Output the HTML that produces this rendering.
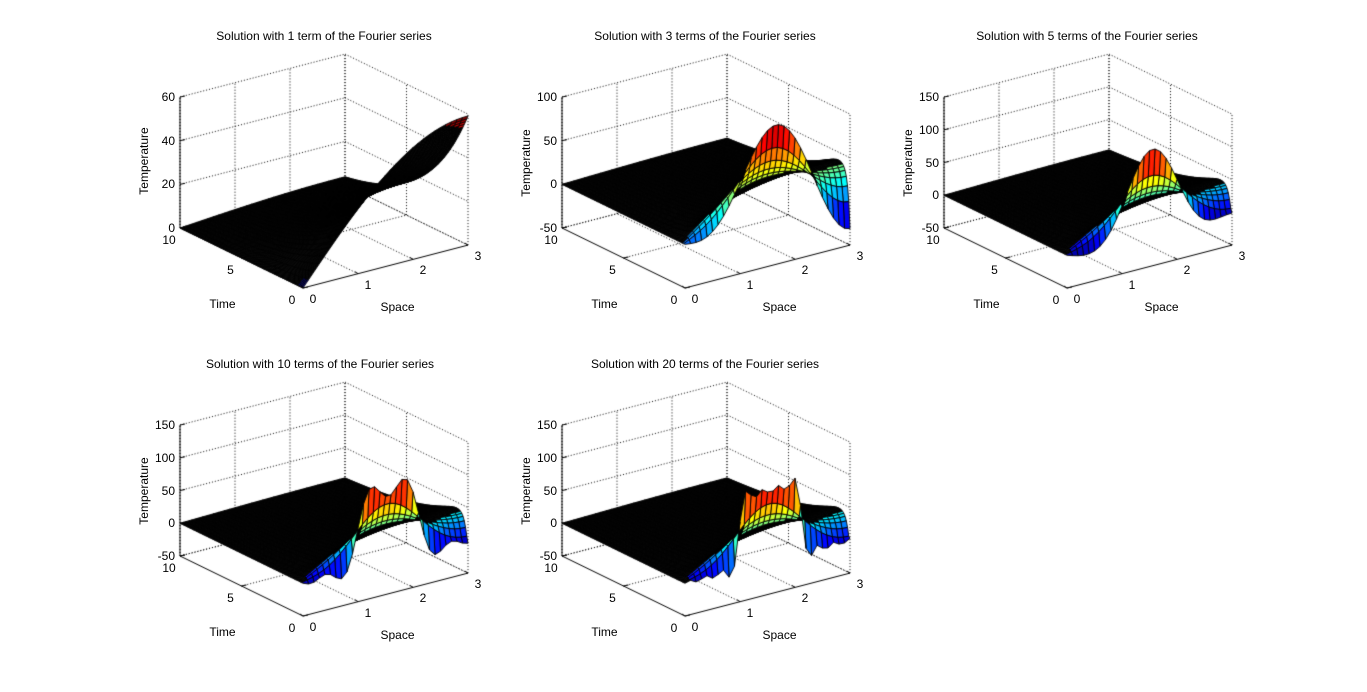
<!DOCTYPE html>
<html><head><meta charset="utf-8">
<style>
html,body{margin:0;padding:0;background:#fff;}
#wrap{position:relative;width:1367px;height:692px;overflow:hidden;background:#fff;font-family:"Liberation Sans",Arial,sans-serif;color:#000;}
canvas{position:absolute;left:0;top:0;}
.t{position:absolute;white-space:nowrap;font-size:12px;line-height:12px;}
.c{transform:translate(-50%,-50%);}
.r{transform:translate(-100%,-50%);}
.v{transform:translate(-50%,-50%) rotate(-90deg);}
</style></head>
<body>
<div id="wrap">
<canvas id="cv" width="1367" height="692"></canvas>
</div>
<script>
// ---- data ----
const termCounts = [1, 3, 5, 10, 20];
const spaceTicks = [0, 1, 2, 3];
const timeTicks = [0, 5, 10];
const zTicksA = [0, 20, 40, 60];
const zTicksB = [-50, 0, 50, 100];
const zTicksC = [-50, 0, 50, 100, 150];
// initial temperature profile sampled every 0.05 on [0,3]
const initialTemp = [0,0,0,0,0,0,0,0,0,0,0,0,0,0,0,0,0,0,0,0,
  108,108,108,108,108,108,108,108,108,108,108,108,108,108,108,108,108,108,108,108,108,108,108,
  0,0,0,0,0,0,0,0,0,0,0,0,0,0,0,0,0,0];
const sampleStep = 0.05;

// ---- layout (not data) ----
const plots = [
  {ox:303, oy:288, zlo:0,   zhi:60,  zt:zTicksA, tx:324, ty:36},
  {ox:685, oy:288, zlo:-50, zhi:100, zt:zTicksB, tx:705, ty:36},
  {ox:1067,oy:288, zlo:-50, zhi:150, zt:zTicksC, tx:1087,ty:36},
  {ox:303, oy:616, zlo:-50, zhi:150, zt:zTicksC, tx:320, ty:364},
  {ox:685, oy:616, zlo:-50, zhi:150, zt:zTicksC, tx:705, ty:364}
];
const L = 3;
const wrap = document.getElementById('wrap');
const ctx = document.getElementById('cv').getContext('2d');

function P(p, x, t, z){
  return [p.ox + x*55 - t*12.3, p.oy - x*14.3 - t*6 - (z - p.zlo)*131/(p.zhi - p.zlo)];
}
function coeffs(N){
  const b = [];
  for(let n=1;n<=N;n++){
    const k=(2*n-1)*Math.PI/(2*L);
    let s=0;
    for(let i=0;i<initialTemp.length;i++){
      const a=Math.max(0,i*sampleStep-sampleStep/2), c=Math.min(L,i*sampleStep+sampleStep/2);
      s+=initialTemp[i]*(Math.cos(k*a)-Math.cos(k*c))/k;
    }
    b.push({k:k, b:2/L*s});
  }
  return b;
}
function jet(v){
  v=Math.max(0,Math.min(1,v));
  const cl=q=>Math.round(255*Math.max(0,Math.min(1,q)));
  return 'rgb('+cl(1.5-Math.abs(4*v-3))+','+cl(1.5-Math.abs(4*v-2))+','+cl(1.5-Math.abs(4*v-1))+')';
}
function line(a,b){ctx.beginPath();ctx.moveTo(a[0],a[1]);ctx.lineTo(b[0],b[1]);ctx.stroke();}
function addText(txt, x, y, cls, name){
  const d=document.createElement('div');
  d.className='t '+cls;
  d.style.left=x+'px'; d.style.top=y+'px';
  d.textContent=txt;
  
  
  wrap.appendChild(d);
}

plots.forEach((p,pi)=>{
  const N=termCounts[pi];
  // grid (dotted)
  ctx.save();
  ctx.strokeStyle='#000'; ctx.lineWidth=1; ctx.setLineDash([1,2]);
  p.zt.forEach(z=>{ line(P(p,0,10,z),P(p,3,10,z)); line(P(p,3,10,z),P(p,3,0,z)); });
  spaceTicks.forEach(x=>{ line(P(p,x,10,p.zlo),P(p,x,10,p.zhi)); if(x>0) line(P(p,x,0,p.zlo),P(p,x,10,p.zlo)); });
  timeTicks.forEach(t=>{ line(P(p,3,t,p.zlo),P(p,3,t,p.zhi)); if(t>0) line(P(p,0,t,p.zlo),P(p,3,t,p.zlo)); });
  ctx.restore();

  // surface
  const B=coeffs(N);
  const xs=[],ts=[];
  for(let i=0;i<=30;i++) xs.push(i*0.1);
  for(let j=0;j<=100;j++) ts.push(j*0.1);
  const Z=ts.map(t=>xs.map(x=>{let s=0;B.forEach(m=>{s+=m.b*Math.sin(m.k*x)*Math.exp(-m.k*m.k*t);});return s;}));
  let zmin=Infinity,zmax=-Infinity;
  Z.forEach(r=>r.forEach(v=>{zmin=Math.min(zmin,v);zmax=Math.max(zmax,v);}));
  const quads=[];
  for(let j=0;j<ts.length-1;j++)for(let i=0;i<xs.length-1;i++){
    const zc=(Z[j][i]+Z[j][i+1]+Z[j+1][i]+Z[j+1][i+1])/4;
    quads.push({i,j,d:(xs[i]+0.05)*14.3+(ts[j]+0.05)*6,zc});
  }
  quads.sort((a,b)=>b.d-a.d);
  ctx.lineWidth=0.9; ctx.strokeStyle='#000';
  quads.forEach(q=>{
    const {i,j}=q;
    const a=P(p,xs[i],ts[j],Z[j][i]),b=P(p,xs[i+1],ts[j],Z[j][i+1]),
          c=P(p,xs[i+1],ts[j+1],Z[j+1][i+1]),d=P(p,xs[i],ts[j+1],Z[j+1][i]);
    const area=Math.abs((c[0]-a[0])*(d[1]-b[1])-(d[0]-b[0])*(c[1]-a[1]))/2;
    ctx.beginPath();ctx.moveTo(a[0],a[1]);ctx.lineTo(b[0],b[1]);ctx.lineTo(c[0],c[1]);ctx.lineTo(d[0],d[1]);ctx.closePath();
    ctx.fillStyle=area<12?'#000':jet((q.zc-zmin)/(zmax-zmin));
    ctx.fill();ctx.stroke();
  });

  // solid axes
  ctx.save();ctx.lineWidth=1;ctx.strokeStyle='#000';ctx.setLineDash([]);
  line(P(p,0,10,p.zlo),P(p,0,10,p.zhi));
  line(P(p,0,10,p.zlo),P(p,0,0,p.zlo));
  line(P(p,0,0,p.zlo),P(p,3,0,p.zlo));
  p.zt.forEach(z=>{const a=P(p,0,10,z);line(a,[a[0]+5,a[1]-1]);});
  spaceTicks.forEach(x=>{const a=P(p,x,0,p.zlo);line(a,[a[0]-3,a[1]-2]);});
  timeTicks.forEach(t=>{const a=P(p,0,t,p.zlo);line(a,[a[0]+5,a[1]-1]);});
  ctx.restore();

  // text
  addText('Solution with '+N+(N===1?' term':' terms')+' of the Fourier series', p.tx, p.ty, 'c', 'plot-title');
  p.zt.forEach(z=>{const a=P(p,0,10,z);addText(String(z),a[0]-5,a[1],'r','z-tick-label');});
  timeTicks.forEach(t=>{const a=P(p,0,t,p.zlo);addText(String(t),a[0]-11,a[1]+12,'c','time-tick-label');});
  spaceTicks.forEach(x=>{const a=P(p,x,0,p.zlo);addText(String(x),a[0]+10,a[1]+11,'c','space-tick-label');});
  const tl=P(p,0,5,p.zlo); addText('Time',tl[0]-19,tl[1]+46,'c','time-axis-title');
  const sl=P(p,1.5,0,p.zlo); addText('Space',sl[0]+12,sl[1]+40,'c','space-axis-title');
  const zl=P(p,0,10,(p.zlo+p.zhi)/2); addText('Temperature',zl[0]-36,zl[1]+(pi===0?-2:0),'v','z-axis-title');
});
</script>
</body></html>
